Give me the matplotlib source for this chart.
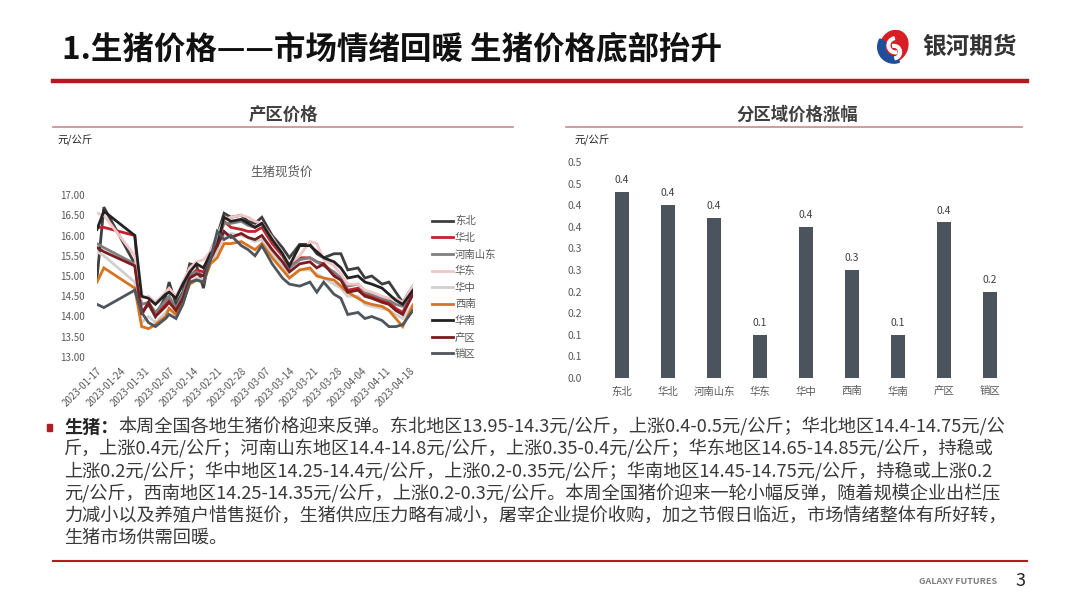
import matplotlib
matplotlib.use("Agg")
import matplotlib.pyplot as plt
import matplotlib.patches as mpatches
from matplotlib.lines import Line2D
import numpy as np
import pandas as pd

plt.rcParams['font.family'] = ['Noto Sans CJK SC', 'DejaVu Sans']

# 生猪现货价 数据
dates = pd.to_datetime([
    '2023-01-17', '2023-01-19', '2023-01-28', '2023-01-30', '2023-02-01', '2023-02-03',
    '2023-02-06', '2023-02-07', '2023-02-09', '2023-02-11', '2023-02-13', '2023-02-15',
    '2023-02-17', '2023-02-19', '2023-02-21', '2023-02-23', '2023-02-25', '2023-02-28',
    '2023-03-02', '2023-03-04', '2023-03-06', '2023-03-09', '2023-03-12', '2023-03-14',
    '2023-03-17', '2023-03-20', '2023-03-22', '2023-03-24', '2023-03-27', '2023-03-29',
    '2023-03-31', '2023-04-03', '2023-04-05', '2023-04-07', '2023-04-10', '2023-04-12',
    '2023-04-14', '2023-04-16', '2023-04-19'])

dongbei = [14.95, 16.7, 15.3, 14.1, 14.3, 14.0, 14.5, 14.85, 14.3, 14.6, 15.3, 15.25, 14.7,
           15.6, 16.0, 16.55, 16.45, 16.5, 16.35, 16.3, 16.45, 16.0, 15.7, 15.45, 15.78, 15.78,
           15.55, 15.45, 15.55, 15.55, 15.15, 15.2, 14.95, 15.0, 14.8, 14.85, 14.6, 14.35, 14.75]
huabei = [16.2, 16.2, 16.0, 14.05, 14.35, 14.05, 14.3, 14.4, 14.15, 14.5, 15.0, 15.15, 15.1,
          15.45, 15.85, 16.35, 16.2, 16.15, 16.1, 16.1, 16.2, 15.8, 15.5, 15.2, 15.45, 15.45,
          15.35, 15.3, 15.05, 14.95, 14.65, 14.7, 14.55, 14.5, 14.4, 14.35, 14.2, 14.1, 14.6]
henan_shandong = [15.8, 15.7, 15.3, 14.3, 14.35, 14.1, 14.4, 14.5, 14.2, 14.55, 15.05, 15.1, 15.0,
                  15.5, 15.85, 16.3, 16.3, 16.35, 16.25, 16.2, 16.3, 15.9, 15.55, 15.2, 15.4, 15.45,
                  15.35, 15.25, 15.1, 14.95, 14.75, 14.8, 14.6, 14.55, 14.45, 14.4, 14.3, 14.25, 14.65]
huadong = [16.55, 16.5, 15.5, 14.45, 14.5, 14.35, 14.6, 14.7, 14.5, 14.85, 15.2, 15.35, 15.4,
           15.6, 16.0, 16.4, 16.45, 16.5, 16.45, 16.35, 16.3, 15.95, 15.55, 15.3, 15.5, 15.85,
           15.8, 15.4, 15.25, 15.05, 14.8, 14.8, 14.65, 14.6, 14.5, 14.45, 14.45, 14.35, 14.75]
huazhong = [15.6, 15.5, 14.85, 13.85, 14.0, 13.85, 14.1, 14.2, 14.0, 14.35, 14.85, 14.95, 14.9,
            15.3, 15.6, 16.0, 16.05, 16.0, 15.95, 15.85, 15.9, 15.55, 15.25, 14.95, 15.15, 15.15,
            15.05, 14.95, 14.8, 14.7, 14.5, 14.5, 14.3, 14.25, 14.2, 14.15, 14.05, 13.95, 14.3]
xinan = [14.85, 15.2, 14.7, 13.75, 13.7, 13.8, 14.0, 14.2, 14.05, 14.35, 14.8, 14.9, 14.85,
         15.3, 15.45, 15.8, 15.8, 15.85, 15.75, 15.65, 15.8, 15.45, 15.15, 14.95, 15.15, 15.2,
         15.0, 14.95, 14.9, 14.75, 14.6, 14.45, 14.35, 14.3, 14.25, 14.15, 13.95, 13.75, 14.28]
huanan = [16.15, 16.6, 16.0, 14.5, 14.45, 14.3, 14.55, 14.6, 14.45, 14.8, 15.1, 15.3, 15.2,
          15.55, 15.75, 16.45, 16.35, 16.4, 16.3, 16.2, 16.3, 15.9, 15.55, 15.25, 15.75, 15.75,
          15.6, 15.45, 15.35, 15.2, 14.95, 15.0, 14.85, 14.8, 14.7, 14.55, 14.4, 14.3, 14.65]
chanqu = [15.7, 15.6, 15.25, 14.05, 14.35, 14.0, 14.25, 14.35, 14.15, 14.45, 14.95, 15.05, 15.0,
          15.4, 15.75, 16.1, 15.95, 16.05, 15.95, 15.9, 16.0, 15.65, 15.35, 15.1, 15.3, 15.35,
          15.2, 15.3, 15.0, 14.9, 14.6, 14.65, 14.5, 14.45, 14.35, 14.3, 14.15, 14.05, 14.55]
xiaoqu = [14.3, 14.22, 14.65, 14.1, 13.85, 13.75, 13.95, 14.05, 13.95, 14.3, 14.85, 14.9, 14.85,
          15.4, 16.1, 15.9, 16.0, 15.75, 15.65, 15.5, 15.75, 15.3, 14.95, 14.8, 14.75, 14.85,
          14.6, 14.85, 14.55, 14.45, 14.05, 14.1, 13.95, 14.0, 13.9, 13.75, 13.75, 13.8, 14.15]

series_names = ['东北', '华北', '河南山东', '华东', '华中', '西南', '华南', '产区', '销区']
series_values = [dongbei, huabei, henan_shandong, huadong, huazhong, xinan, huanan, chanqu, xiaoqu]
series_colors = ['#3f3f3f', '#c0252b', '#7f7f7f', '#f2c5c7', '#d0d0d0', '#d8741f',
                 '#222222', '#7a1c21', '#4e555c']

x_ticks = pd.date_range('2023-01-17', '2023-04-18', freq='7D')

# 分区域价格涨幅 数据
regions = ['东北', '华北', '河南山东', '华东', '华中', '西南', '华南', '产区', '销区']
changes = [0.43, 0.40, 0.37, 0.10, 0.35, 0.25, 0.10, 0.36, 0.20]

W, H = 1080, 608
fig = plt.figure(figsize=(W / 100, H / 100), dpi=100)

# 整页背景坐标系，用于正文排版
bg = fig.add_axes([0, 0, 1, 1], zorder=-1)
bg.axis('off')


def rect(x0, y0, x1, y1):
    # 像素坐标 -> figure 比例
    return [x0 / W, 1 - y1 / H, (x1 - x0) / W, (y1 - y0) / H]


def fx(x):
    return x / W


def fy(y):
    return 1 - y / H


def half_up(v):
    return '%.1f' % (np.floor(v * 10 + 0.5 + 1e-9) / 10)


txt_gray = '#595959'

# 标题
fig.text(fx(62), fy(50), '1.生猪价格——市场情绪回暖 生猪价格底部抬升', fontsize=22.7,
         fontweight='bold', color='#111111', va='center', ha='left')
fig.add_artist(Line2D([fx(53), fx(1027)], [fy(81), fy(81)], color='#b01c22', lw=3.2))

# logo
logo_ax = fig.add_axes(rect(876, 30, 910, 64))
logo_ax.set_xlim(-1, 1)
logo_ax.set_ylim(-1, 1)
logo_ax.set_aspect('equal')
logo_ax.axis('off')
logo_ax.add_patch(mpatches.Ellipse((0.05, 0.05), 1.6, 1.9, angle=-25, color='#d71e25'))
logo_ax.add_patch(mpatches.Wedge((0.05, 0.0), 0.95, 150, 290, width=0.42, color='#1f4e9c'))
logo_ax.add_patch(mpatches.Wedge((0.15, 0.1), 0.5, 100, 280, width=0.16, color='white'))
logo_ax.add_patch(mpatches.Wedge((0.05, -0.3), 0.45, -80, 100, width=0.16, color='white'))
fig.text(fx(922), fy(47), '银河期货', fontsize=17, fontweight='bold', color='#333333',
         va='center', ha='left')

# 小标题
fig.text(fx(283), fy(115), '产区价格', fontsize=12.5, fontweight='bold', color='#404040',
         ha='center', va='center')
fig.add_artist(Line2D([fx(53), fx(513)], [fy(127), fy(127)], color='#c98a8c', lw=1.2))
fig.text(fx(797), fy(115), '分区域价格涨幅', fontsize=12.5, fontweight='bold', color='#404040',
         ha='center', va='center')
fig.add_artist(Line2D([fx(566), fx(1022)], [fy(127), fy(127)], color='#c98a8c', lw=1.2))
fig.text(fx(57), fy(140), '元/公斤', fontsize=7.5, color='#262626', ha='left', va='center')
fig.text(fx(574), fy(140), '元/公斤', fontsize=7.5, color='#262626', ha='left', va='center')

# 折线图
ax1 = fig.add_axes(rect(97, 195, 413, 357))
for name, vals, c in zip(series_names, series_values, series_colors):
    ax1.plot(dates, vals, color=c, lw=2.0, label=name, solid_joinstyle='miter')
ax1.set_ylim(13, 17)
ax1.set_yticks(np.arange(13, 17.01, 0.5))
ax1.yaxis.set_major_formatter(matplotlib.ticker.FormatStrFormatter('%.2f'))
ax1.set_xlim(pd.Timestamp('2023-01-17'), pd.Timestamp('2023-04-19'))
ax1.set_xticks(x_ticks)
ax1.set_xticklabels([d.strftime('%Y-%m-%d') for d in x_ticks], rotation=45, ha='right',
                    rotation_mode='anchor')
for s in ax1.spines.values():
    s.set_visible(False)
ax1.tick_params(length=0, labelsize=7, colors=txt_gray, pad=6)
ax1.tick_params(axis='y', pad=9)
fig.text(fx(282), fy(172), '生猪现货价', fontsize=9, color=txt_gray, ha='center', va='center')
ax1.legend(loc='upper left', bbox_to_anchor=(fx(432), fy(216)), bbox_transform=fig.transFigure,
           frameon=False, fontsize=7.5, handlelength=2.0, handletextpad=0.2,
           labelspacing=0.62, labelcolor=txt_gray, borderaxespad=0, borderpad=0)

# 柱状图
ax2 = fig.add_axes(rect(599, 162, 1013, 378))
xpos = np.arange(len(regions))
ax2.bar(xpos, changes, width=0.32, color='#4b535c')
for xi, v in zip(xpos, changes):
    ax2.annotate(half_up(v), (xi, v), xytext=(0, 5), textcoords='offset points',
                 ha='center', va='bottom', fontsize=7.5, color='#404040')
ax2.set_ylim(0, 0.5)
ax2.set_xlim(-0.5, len(regions) - 0.5)
yt = np.arange(0, 0.501, 0.05)
ax2.set_yticks(yt)
ax2.set_yticklabels([half_up(v) for v in yt])
ax2.set_xticks(xpos)
ax2.set_xticklabels(regions)
for s in ax2.spines.values():
    s.set_visible(False)
ax2.tick_params(length=0, labelsize=7.5, colors=txt_gray)
ax2.tick_params(axis='y', pad=12)
ax2.tick_params(axis='x', pad=6)

# 正文
body_color = '#3a3a3a'
fs = 13.1
fig.add_artist(mpatches.Rectangle((fx(47), fy(431)), 5 / W, 7 / H, color='#b01c22',
                                  transform=fig.transFigure))
lines = [
    '本周全国各地生猪价格迎来反弹。东北地区13.95-14.3元/公斤，上涨0.4-0.5元/公斤；华北地区14.4-14.75元/公',
    '斤，上涨0.4元/公斤；河南山东地区14.4-14.8元/公斤，上涨0.35-0.4元/公斤；华东地区14.65-14.85元/公斤，持稳或',
    '上涨0.2元/公斤；华中地区14.25-14.4元/公斤，上涨0.2-0.35元/公斤；华南地区14.45-14.75元/公斤，持稳或上涨0.2',
    '元/公斤，西南地区14.25-14.35元/公斤，上涨0.2-0.3元/公斤。本周全国猪价迎来一轮小幅反弹，随着规模企业出栏压',
    '力减小以及养殖户惜售挺价，生猪供应压力略有减小，屠宰企业提价收购，加之节假日临近，市场情绪整体有所好转，',
    '生猪市场供需回暖。',
]
lead = bg.text(fx(64), fy(427), '生猪：', transform=bg.transAxes, fontsize=fs,
               fontweight='bold', color='#262626', ha='left', va='center')
bg.annotate(lines[0], xy=(1, 0.5), xycoords=lead, fontsize=fs, color=body_color,
            ha='left', va='center')
for i, ln in enumerate(lines[1:], start=1):
    bg.text(fx(64), fy(427 + i * 22.2), ln, transform=bg.transAxes, fontsize=fs,
            color=body_color, ha='left', va='center')

# 底部
fig.add_artist(Line2D([fx(53), fx(1027)], [fy(561), fy(561)], color='#b01c22', lw=1.5))
fig.text(fx(997), fy(582), 'GALAXY FUTURES', fontsize=6.5, fontweight='bold', color='#7f7f7f',
         ha='right', va='center')
fig.text(fx(1020), fy(581), '3', fontsize=13, color='#222222', ha='center', va='center')

fig.savefig('out.png', dpi=100)
